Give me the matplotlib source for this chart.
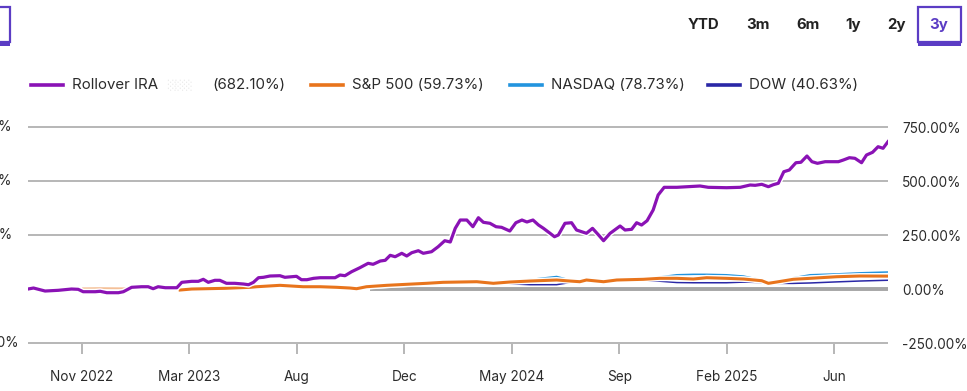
import matplotlib
matplotlib.use("Agg")
import matplotlib.pyplot as plt
from matplotlib.lines import Line2D
from matplotlib.patches import Rectangle
import matplotlib.patheffects as pe

plt.rcParams['font.family'] = ['Inter', 'DejaVu Sans']

# x positions are in weeks from the start of the 3y window (0..156)
ira_weeks = [0, 1.0, 3.1, 5.5, 7.9, 9.1, 10.0, 12.2, 13.1, 14.3, 16.4, 17.3, 18.8, 20.6, 21.8,
             22.7, 23.6, 24.9, 27.0, 27.9, 29.7, 30.9, 31.8, 32.7, 33.9, 34.8, 36.0, 37.5,
             39.1, 40.0, 40.9, 41.8, 42.7, 43.9, 45.7, 46.6, 48.7, 49.6, 50.6, 51.8, 53.0,
             55.7, 56.6, 57.5, 58.7, 60.2, 61.7, 62.6, 63.9, 64.8, 65.7, 66.6, 67.8, 68.7,
             69.6, 70.8, 71.7, 73.2, 74.4, 75.6, 76.6, 77.5, 78.4, 79.6, 80.7, 81.7, 82.6,
             83.8, 84.9, 85.9, 87.4, 88.5, 89.6, 90.5, 91.6, 92.6, 93.5, 94.7, 95.5, 96.2,
             97.4, 98.6, 99.5, 101.3, 102.4, 103.5, 104.4, 105.6, 107.4, 108.3, 109.5, 110.4,
             111.3, 112.3, 113.4, 114.3, 115.4, 117.7, 121.9, 123.4, 126.7, 129.2, 131.0,
             131.9, 133.1, 134.3, 135.2, 136.1, 137.1, 138.1, 139.3, 140.2, 141.3, 142.2,
             143.2, 144.6, 147.0, 147.9, 149.0, 150.0, 151.2, 152.1, 153.2, 154.2, 155.1, 156]
ira_vals = [0, 4.6, -9.3, -6, 0, -1.4, -12.5, -12.5, -10.6, -17.1, -17.1, -12.5, 7.9, 10.6, 10.6,
            1.4, 10.6, 6, 6, 31, 35.6, 35.6, 44.9, 31, 40.3, 40.3, 26.4, 26.4,
            23.1, 19.9, 31, 52.3, 54.2, 60.2, 61.6, 54.2, 58.8, 43.1, 43.1, 49.5, 52.3,
            52.3, 64.8, 61.6, 80.1, 98.6, 119, 114.4, 129.6, 132.9, 156, 149.5, 165.3, 152.8,
            168, 177.3, 165.3, 172.7, 195.8, 223.6, 217.6, 281, 319.4, 319.4, 288.4, 330.1, 308.8,
            304.2, 288.4, 285.6, 268.5, 306.9, 319.4, 310.2, 319.4, 296.3, 281, 257.9, 242.1, 250,
            304.2, 306.9, 273.1, 257.9, 281, 250, 223.6, 257.9, 291.7, 273.1, 276.4, 306.9,
            296.3, 316.2, 365.7, 435.2, 470.8, 470.8, 476.9, 470.8, 469, 470.8, 481.5,
            480, 484.7, 473.6, 482.9, 489.4, 543, 550.9, 584.7, 586.6, 615.7, 589.4,
            581.9, 589.4, 589.4, 597.2, 607.9, 605.1, 584.7, 620.4, 632.9, 658.8, 651.4, 682.1]

# S&P 500, NASDAQ and DOW share the same sample weeks
idx_weeks = [27.6, 29.7, 35.7, 40.3, 41.5, 45.7, 49.9, 53.0, 56.0, 58.4, 59.6, 61.4, 65.1, 68.7,
             72.3, 75.3, 81.4, 84.4, 87.4, 91.1, 95.9, 98.3, 100.1, 101.3, 104.4, 106.8, 111.6,
             114.6, 117.7, 120.7, 123.1, 126.7, 129.8, 133.1, 134.3, 135.8, 138.8, 141.9, 146.7,
             150.9, 156]
sp_vals = [-4.6, 0, 3.2, 7.9, 10.6, 17.1, 10.6, 10.6, 7.9, 4.6, 1.4, 10.6, 17.1, 21.8,
           26.4, 31, 33.8, 26.4, 32.4, 37, 41.7, 37, 33.8, 41.7, 33.8, 41.7, 44.9,
           49.5, 49.5, 46.3, 52.3, 49.5, 46.3, 38.4, 26.4, 32.4, 44.9, 49.5, 56.9,
           60.2, 59.73]
nasdaq_vals = [-4, 1, 5, 9, 12, 19, 12, 12, 9, 6, 3, 12, 19, 24,
               29, 34, 37, 29, 36, 44, 58, 42, 36, 44, 36, 44, 48,
               56, 66, 68, 68, 66, 60, 42, 27, 34, 52, 66, 70,
               75, 78.73]
dow_vals = [-6, -2, 1, 5, 8, 14, 8, 8, 5, 2, -1, 8, 14, 19,
            23, 27, 30, 22, 24, 20, 20, 30, 30, 36, 30, 36, 38,
            36, 30, 29, 29, 29, 32, 30, 22, 26, 26, 28, 33,
            37, 40.63]
sp_early_weeks = [10.0, 13.0, 17.6]
sp_early_vals = [3, 4, 3]

base_weeks = [62, 156]
base_vals = [0, 0]

tick_labels = ['Nov 2022', 'Mar 2023', 'Aug', 'Dec', 'May 2024', 'Sep', 'Feb 2025', 'Jun']
y_ticks = [-250, 0, 250, 500, 750]
grid_levels = [-250, 250, 500, 750]

legend_items = [('Rollover IRA', '(682.10%)', '#8A12B5'),
                ('S&P 500 (59.73%)', '', '#E8741C'),
                ('NASDAQ (78.73%)', '', '#2394DE'),
                ('DOW (40.63%)', '', '#2A27A6')]
ranges = ['YTD', '3m', '6m', '1y', '2y', '3y']

W, H = 967, 391
fig = plt.figure(figsize=(W / 100, H / 100), dpi=100)
fx = lambda x: x / W
fy = lambda y: 1 - y / H

ax = fig.add_axes([fx(28), fy(344.1), fx(888) - fx(28), fy(116.2) - fy(344.1)])
ax.set_xlim(0, 156)
ax.set_ylim(-255, 800)

for g in grid_levels:
    ax.axhline(g, color='#a3a3a3', lw=1.1, zorder=0)

halo = lambda w: [pe.withStroke(linewidth=w + 2, foreground='white')]
ax.plot(base_weeks, base_vals, color='#a6a6a6', lw=2.8, zorder=1, solid_capstyle='butt')
ax.plot(sp_early_weeks, sp_early_vals, color='#E8741C', lw=1.4, alpha=0.45, zorder=2)
ax.plot(idx_weeks, dow_vals, color='#2A27A6', lw=1.1, zorder=2, path_effects=halo(1.1))
ax.plot(idx_weeks, nasdaq_vals, color='#2394DE', lw=1.1, zorder=3, path_effects=halo(1.1))
ax.plot(idx_weeks, sp_vals, color='#E8741C', lw=2.2, zorder=4, path_effects=halo(2.2))
ax.plot(ira_weeks, ira_vals, color='#8A12B5', lw=2.3, zorder=5, path_effects=halo(2.3))

for s in ax.spines.values():
    s.set_visible(False)

ax.set_xticks([(i + 0.5) * 19.5 for i in range(8)])
ax.set_xticklabels(tick_labels)
ax.tick_params(axis='x', length=7.5, width=1.1, color='#a3a3a3', pad=11,
               labelsize=9.8, labelcolor='#2b2b2b')
ax.yaxis.tick_right()
ax.set_yticks(y_ticks)
ax.set_yticklabels(['{:.2f}%'.format(v) for v in y_ticks])
ax.tick_params(axis='y', length=0, pad=10, labelsize=9.8, labelcolor='#2b2b2b')

# clipped labels of the neighbouring panel at the left edge
for v in y_ticks:
    fig.text(fx(-47), fy(289 - v * 54 / 250), '{:.2f}%'.format(v), ha='left', va='center',
             fontsize=9.8, color='#2b2b2b')

# legend
lx = [31, 311, 510, 708]
for (name, extra, col), x0 in zip(legend_items, lx):
    fig.add_artist(Line2D([fx(x0), fx(x0 + 32)], [fy(85), fy(85)], color=col, lw=2.6,
                          transform=fig.transFigure))
    fig.text(fx(x0 + 41), fy(85), name, ha='left', va='center', fontsize=10.8, color='#2b2b2b')
    if extra:
        fig.text(fx(167), fy(85), '\u2591\u2591\u2591', ha='left', va='center', fontsize=8,
                 color='#ececec')
        fig.text(fx(212), fy(85), extra, ha='left', va='center', fontsize=10.8, color='#2b2b2b')

# range buttons
bx = [704, 758, 808, 853, 896, 939]
for r, x in zip(ranges, bx):
    fig.text(fx(x), fy(25), r, ha='center', va='center', fontsize=10.8, fontweight='bold',
             color='#5B3CC4' if r == '3y' else '#222222')
for x0 in [918, -33]:
    fig.add_artist(Rectangle((fx(x0), fy(42)), fx(43), fy(7) - fy(42), fill=False,
                             edgecolor='#5B3CC4', lw=1.6, transform=fig.transFigure))
    fig.add_artist(Rectangle((fx(x0), fy(46)), fx(43), fy(42) - fy(46), color='#5B3CC4',
                             lw=0, transform=fig.transFigure))

fig.savefig('out.png', dpi=100)
